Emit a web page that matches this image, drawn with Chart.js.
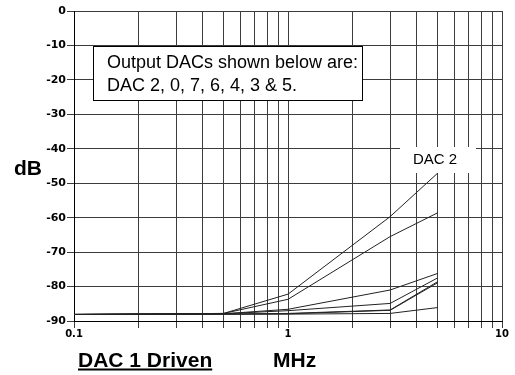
<!DOCTYPE html>
<html>
<head>
<meta charset="utf-8">
<script src="https://cdn.jsdelivr.net/npm/chart.js@4/dist/chart.umd.min.js"></script>
<style>
  html, body { margin: 0; padding: 0; background: #fff; }
  #wrap { width: 515px; height: 375px; position: relative; }
</style>
</head>
<body>
<div id="wrap"><canvas id="c" width="515" height="375"></canvas></div>
<script>
// Crosstalk (dB) of the other output DACs while DAC 1 is driven, vs. frequency (MHz)
const freqMHz = [0.1, 0.5, 1, 3, 5];
const dac2 = [-88.1, -87.8, -82.2, -59.7, -47.1];
const dac0 = [-88.1, -87.8, -83.7, -65.5, -58.6];
const dac7 = [-88.1, -87.9, -86.6, -81.0, -76.2];
const dac6 = [-88.1, -87.9, -87.0, -84.9, -77.5];
const dac4 = [-88.1, -88.0, -87.8, -86.8, -78.6];
const dac3 = [-88.1, -88.0, -87.9, -86.9, -78.9];
const dac5 = [-88.1, -88.0, -88.0, -87.8, -86.1];

const seriesNames = ['DAC 2', 'DAC 0', 'DAC 7', 'DAC 6', 'DAC 4', 'DAC 3', 'DAC 5'];
const seriesValues = [dac2, dac0, dac7, dac6, dac4, dac3, dac5];

// Log-axis grid (1..9 per decade) and the decade labels
const xGridValues = [0.1, 0.2, 0.3, 0.4, 0.5, 0.6, 0.7, 0.8, 0.9,
                     1, 2, 3, 4, 5, 6, 7, 8, 9, 10];
const xLabelValues = [0.1, 1, 10];
const xLabelTexts = ['0.1', '1', '10'];

const yTickValues = [0, -10, -20, -30, -40, -50, -60, -70, -80, -90];
const yTickTexts = ['0', '-10', '-20', '-30', '-40', '-50', '-60', '-70', '-80', '-90'];

const boxLines = ['Output DACs shown below are:', 'DAC 2, 0, 7, 6, 4, 3 & 5.'];
const curveLabel = 'DAC 2';
const yTitle = 'dB';
const xTitle = 'MHz';
const conditionText = 'DAC 1 Driven';

const datasets = seriesValues.map((vals, i) => ({
  label: seriesNames[i],
  data: freqMHz.map((f, j) => ({ x: f, y: vals[j] })),
  borderColor: '#222',
  borderWidth: 1,
  pointRadius: 0,
  tension: 0,
  fill: false
}));

const GRID = '#3c3c3c';

const annotations = {
  id: 'annotations',
  afterDatasetsDraw(chart) {
    const ctx = chart.ctx;
    const a = chart.chartArea;
    ctx.save();

    // note box
    const bx = a.left + 19, by = a.top + 35, bw = 269, bh = 54;
    ctx.fillStyle = '#fff';
    ctx.fillRect(bx, by, bw, bh);
    ctx.strokeStyle = '#000';
    ctx.lineWidth = 1;
    ctx.strokeRect(bx + 0.5, by + 0.5, bw, bh);
    ctx.fillStyle = '#000';
    ctx.font = '18px "Liberation Sans", Arial, sans-serif';
    ctx.textAlign = 'left';
    ctx.textBaseline = 'alphabetic';
    ctx.fillText(boxLines[0], bx + 14, by + 22);
    ctx.fillText(boxLines[1], bx + 14, by + 45);

    // curve label on white background
    const lx = a.left + 326, ly = a.top + 136;
    ctx.fillStyle = '#fff';
    ctx.fillRect(lx, ly, 76, 26);
    ctx.fillStyle = '#000';
    ctx.font = '15px "Liberation Sans", Arial, sans-serif';
    ctx.fillText(curveLabel, lx + 13, ly + 17);
    ctx.restore();
  },
  afterDraw(chart) {
    const ctx = chart.ctx;
    ctx.save();
    ctx.fillStyle = '#000';
    ctx.textAlign = 'left';
    ctx.textBaseline = 'alphabetic';
    ctx.font = 'bold 21px "Liberation Sans", Arial, sans-serif';
    ctx.fillText(yTitle, 14, 175);
    ctx.fillText(xTitle, 273, 367);
    ctx.fillText(conditionText, 78, 367);
    const w = ctx.measureText(conditionText).width;
    ctx.fillRect(78, 368.5, w, 2);
    ctx.restore();
  }
};

new Chart(document.getElementById('c'), {
  type: 'line',
  data: { datasets },
  options: {
    responsive: false,
    animation: false,
    devicePixelRatio: 1,
    layout: { padding: { top: 11, right: 13, left: 0, bottom: 0 } },
    plugins: { legend: { display: false }, tooltip: { enabled: false } },
    scales: {
      x: {
        type: 'logarithmic',
        min: 0.1,
        max: 10,
        afterBuildTicks(scale) {
          scale.ticks = xGridValues.map(v => ({ value: v }));
        },
        afterFit(scale) { scale.height = 54; },
        ticks: {
          autoSkip: false,
          maxRotation: 0,
          padding: 0,
          color: '#000',
          font: { family: 'DejaVu Sans', weight: 'bold', size: 10 },
          callback(value) {
            const k = xLabelValues.findIndex(v => Math.abs(v - value) < 1e-9);
            return k >= 0 ? xLabelTexts[k] : '';
          }
        },
        grid: { color: GRID, lineWidth: 1, tickLength: 7, drawTicks: true },
        border: { color: '#000', width: 1 }
      },
      y: {
        type: 'linear',
        min: -90,
        max: 0,
        afterBuildTicks(scale) {
          scale.ticks = yTickValues.map(v => ({ value: v }));
        },
        afterFit(scale) { scale.width = 74; },
        ticks: {
          padding: 1,
          color: '#000',
          font: { family: 'DejaVu Sans', weight: 'bold', size: 11 },
          callback(value) {
            const k = yTickValues.indexOf(value);
            return k >= 0 ? yTickTexts[k] : '';
          }
        },
        grid: { color: GRID, lineWidth: 1, tickLength: 7, drawTicks: true },
        border: { color: '#000', width: 1 }
      }
    }
  },
  plugins: [annotations]
});
</script>
</body>
</html>
